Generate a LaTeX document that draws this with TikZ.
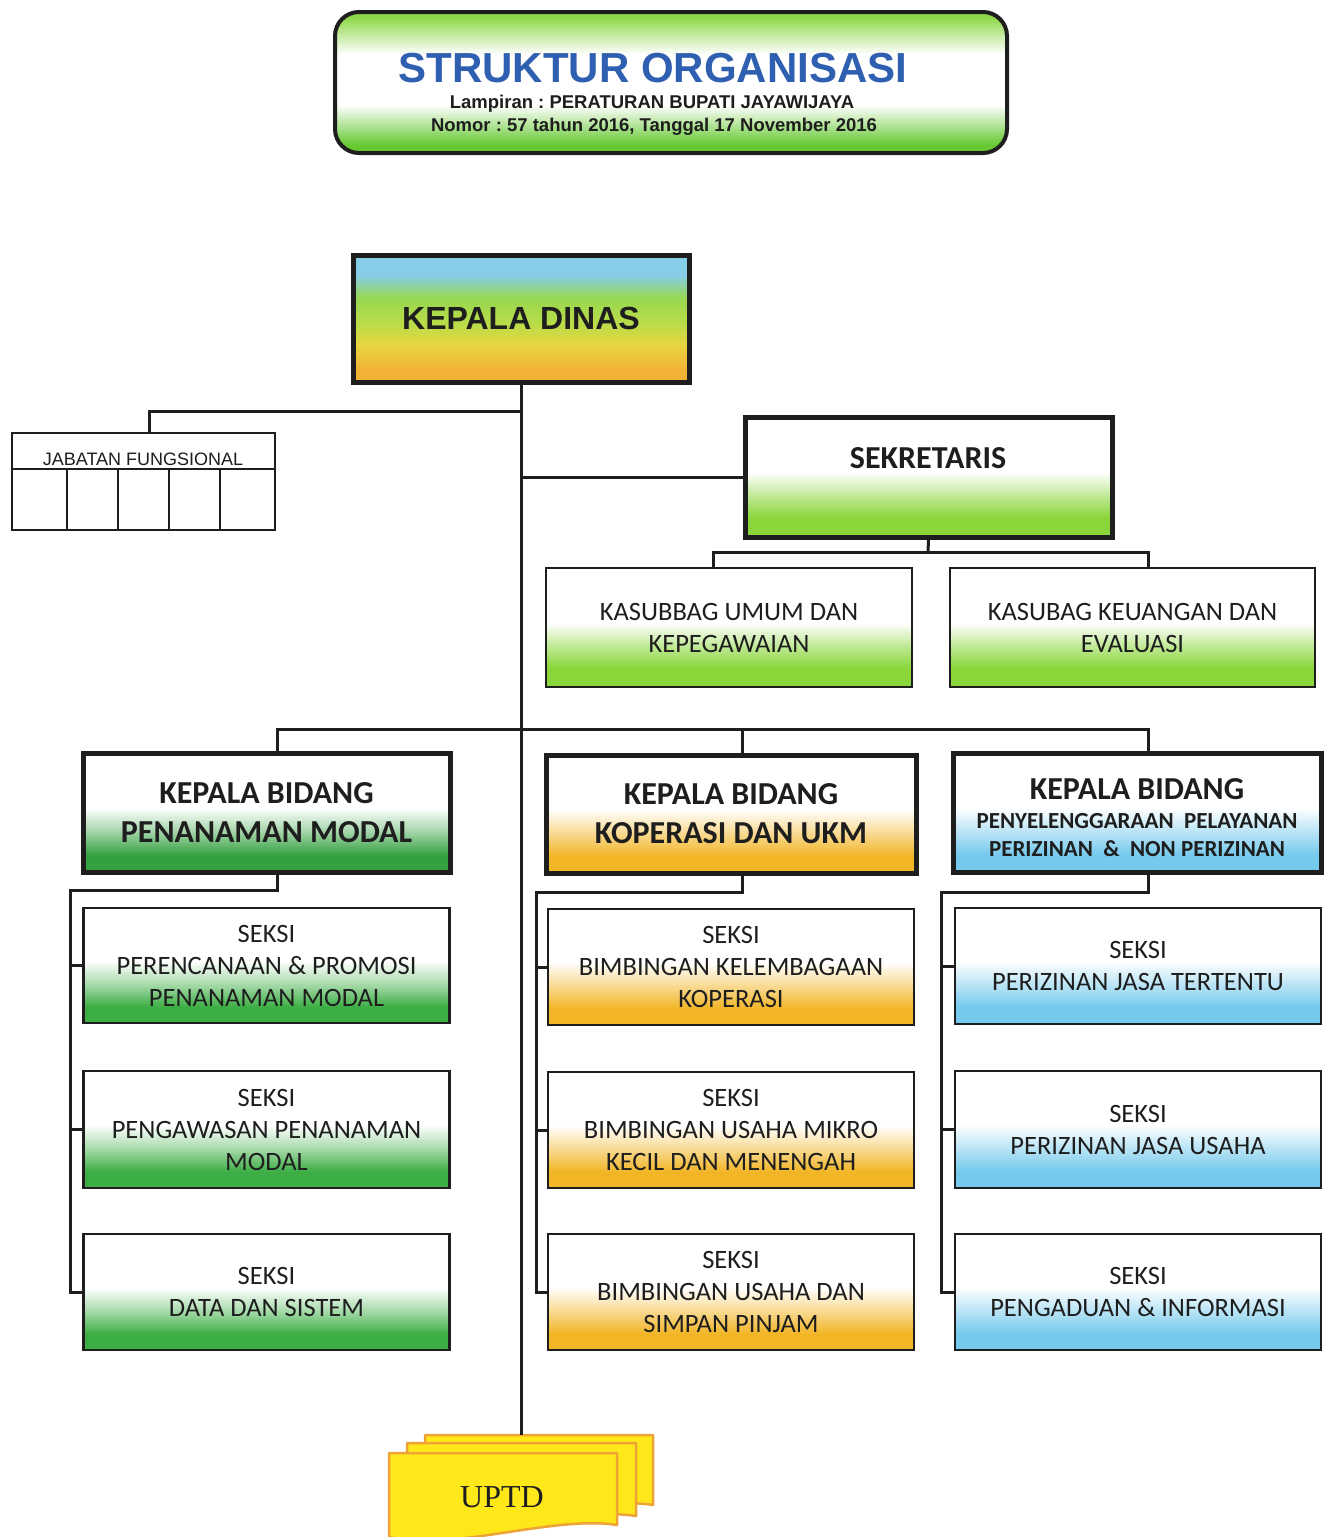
\documentclass[tikz,border=0pt]{standalone}
\usepackage{fontspec}
\setmainfont{Carlito}
\newfontfamily\arialf{Liberation Sans}
\newfontfamily\seriff{Liberation Serif}
\usetikzlibrary{calc}
\frenchspacing

\definecolor{titleblue}{HTML}{2F5FB0}
\definecolor{ink}{HTML}{1E1E1E}
\definecolor{kdO}{HTML}{F2B236}
\definecolor{kdY}{HTML}{E6D640}
\definecolor{kdYG}{HTML}{BEDC48}
\definecolor{kdG}{HTML}{98D850}
\definecolor{kdB}{HTML}{86CDE8}
\definecolor{lgreen}{HTML}{8AD63A}
\definecolor{dgreen}{HTML}{3DAE45}
\definecolor{kbgreen}{HTML}{34A040}
\definecolor{oyel}{HTML}{F2B526}
\definecolor{lblue}{HTML}{74C9EC}
\definecolor{tgreenT}{HTML}{8FD84C}
\definecolor{tgreenB}{HTML}{66C932}
\definecolor{uyel}{HTML}{FFE81A}
\definecolor{uorange}{HTML}{EFA236}

\pgfdeclareverticalshading{kdsh}{100bp}{color(0bp)=(kdO); color(30bp)=(kdO); color(40bp)=(kdY); color(47bp)=(kdYG); color(58bp)=(kdG); color(67bp)=(kdB); color(100bp)=(kdB)}
\pgfdeclareverticalshading{titlesh}{100bp}{color(0bp)=(tgreenB); color(28bp)=(tgreenB); color(42bp)=(white); color(60bp)=(white); color(73bp)=(tgreenT); color(100bp)=(tgreenT)}
\pgfdeclareverticalshading{lgsh}{100bp}{color(0bp)=(lgreen); color(33bp)=(lgreen); color(42bp)=(lgreen!55!white); color(52bp)=(white); color(100bp)=(white)}
\pgfdeclareverticalshading{dgsh}{100bp}{color(0bp)=(dgreen); color(32bp)=(dgreen); color(42bp)=(dgreen!45!white); color(52bp)=(white); color(100bp)=(white)}
\pgfdeclareverticalshading{kbgsh}{100bp}{color(0bp)=(kbgreen); color(32bp)=(kbgreen); color(42bp)=(kbgreen!45!white); color(52bp)=(white); color(100bp)=(white)}
\pgfdeclareverticalshading{ysh}{100bp}{color(0bp)=(oyel); color(32bp)=(oyel); color(42bp)=(oyel!50!white); color(52bp)=(white); color(100bp)=(white)}
\pgfdeclareverticalshading{bsh}{100bp}{color(0bp)=(lblue); color(32bp)=(lblue); color(42bp)=(lblue!50!white); color(52bp)=(white); color(100bp)=(white)}

\begin{document}
\begin{tikzpicture}[x=1pt,y=-1pt,
  conn/.style={draw=ink, line width=3pt},
  thickbox/.style={draw=ink, line width=5pt, rectangle, inner sep=0pt, align=center, text=ink},
  thinbox/.style={draw=ink, line width=2.5pt, rectangle, inner sep=0pt, align=center, text=ink},
  seksibox/.style={thinbox, minimum width=366pt, minimum height=116pt, font=\fontsize{26.5}{32}\selectfont},
  kbtxt/.style={font=\bfseries\fontsize{32}{39}\selectfont},
  uptdsheet/.style={draw=uorange, fill=uyel, line width=2.5pt, line join=round},
]
\useasboundingbox (0,0) rectangle (1326,1537);
\fill[white] (0,0) rectangle (1326,1537);

% ---------- title ----------
\node[draw=ink, line width=4pt, rounded corners=24pt, shading=titlesh,
      minimum width=672pt, minimum height=141pt, inner sep=0pt] (title) at (671,82.5) {};
\node[font=\arialf\bfseries\fontsize{42}{44}\selectfont, text=titleblue, inner sep=0pt] (ttl) at (653,68) {STRUKTUR ORGANISASI};
\node[font=\arialf\bfseries\fontsize{18.5}{20}\selectfont, text=ink, inner sep=0pt] (ttl2) at (652,104) {Lampiran : PERATURAN BUPATI JAYAWIJAYA};
\node[font=\arialf\bfseries\fontsize{18.5}{20}\selectfont, text=ink, inner sep=0pt] (ttl3) at (654,127) {Nomor : 57 tahun 2016, Tanggal 17 November 2016};

% ---------- kepala dinas ----------
\node[thickbox, shading=kdsh, minimum width=336pt, minimum height=127pt,
      font=\arialf\bfseries\fontsize{32}{34}\selectfont] (kd) at (521,318.5) {KEPALA DINAS};

% ---------- jabatan fungsional ----------
\node[thinbox, fill=white, minimum width=263pt, minimum height=97pt] (jf) at (143.5,481.5) {};
\node[font=\arialf\fontsize{18}{19}\selectfont, text=ink, inner sep=0pt] (jft) at (143,459) {JABATAN FUNGSIONAL};
\draw[ink, line width=2pt] (jf.west |- 0,469) -- (jf.east |- 0,469);
\foreach \xx in {67,118,169,220}{
  \draw[ink, line width=2pt] (\xx,469) -- (\xx,0 |- jf.south);
}

% ---------- sekretaris ----------
\node[thickbox, shading=lgsh, minimum width=367pt, minimum height=120pt] (sek) at (928.5,477) {};
\node[font=\bfseries\fontsize{32}{34}\selectfont, text=ink, inner sep=0pt] (sekt) at (928,458) {SEKRETARIS};

\node[thinbox, shading=lgsh, minimum width=366pt, minimum height=119pt,
      font=\fontsize{26.5}{32}\selectfont] (k1) at (729,627.5) {KASUBBAG UMUM DAN\\KEPEGAWAIAN};
\node[thinbox, shading=lgsh, minimum width=365pt, minimum height=119pt,
      font=\fontsize{26.5}{32}\selectfont] (k2) at (1132.5,627.5) {KASUBAG KEUANGAN DAN\\EVALUASI};

% ---------- kepala bidang ----------
\node[thickbox, shading=kbgsh, minimum width=367pt, minimum height=119pt, kbtxt] (kb1) at (266.5,812.5) {KEPALA BIDANG\\PENANAMAN MODAL};
\node[thickbox, shading=ysh, minimum width=370pt, minimum height=118pt, kbtxt] (kb2) at (731,814) {KEPALA BIDANG\\KOPERASI DAN UKM};
\node[thickbox, shading=bsh, minimum width=368pt, minimum height=119pt] (kb3) at (1137,812.5) {};
\node[font=\bfseries\fontsize{32}{34}\selectfont, text=ink, inner sep=0pt] (kb3a) at (1137,789) {KEPALA BIDANG};
\node[font=\bfseries\fontsize{23}{25}\selectfont, text=ink, inner sep=0pt] (kb3b) at (1137,821) {PENYELENGGARAAN\ \ PELAYANAN};
\node[font=\bfseries\fontsize{23}{25}\selectfont, text=ink, inner sep=0pt] (kb3c) at (1137,849) {PERIZINAN\ \ \&\ \ NON PERIZINAN};

% ---------- seksi ----------
\node[seksibox, shading=dgsh, minimum height=115pt] (s11) at (266.5,965.5) {SEKSI\\PERENCANAAN \& PROMOSI\\PENANAMAN MODAL};
\node[seksibox, shading=dgsh, minimum height=117pt] (s12) at (266.5,1129.5) {SEKSI\\PENGAWASAN PENANAMAN\\MODAL};
\node[seksibox, shading=dgsh] (s13) at (266.5,1292) {SEKSI\\DATA DAN SISTEM};

\node[seksibox, shading=ysh] (s21) at (731,967) {SEKSI\\BIMBINGAN KELEMBAGAAN\\KOPERASI};
\node[seksibox, shading=ysh] (s22) at (731,1130) {SEKSI\\BIMBINGAN USAHA MIKRO\\KECIL DAN MENENGAH};
\node[seksibox, shading=ysh] (s23) at (731,1292) {SEKSI\\BIMBINGAN USAHA DAN\\SIMPAN PINJAM};

\node[seksibox, shading=bsh] (s31) at (1138,966) {SEKSI\\PERIZINAN JASA TERTENTU};
\node[seksibox, shading=bsh, minimum height=117pt] (s32) at (1138,1129.5) {SEKSI\\PERIZINAN JASA USAHA};
\node[seksibox, shading=bsh] (s33) at (1138,1292) {SEKSI\\PENGADUAN \& INFORMASI};

% ---------- UPTD ----------
\draw[uptdsheet] (425,1435) -- (653,1435) -- (653,1505)
  .. controls (590,1495) and (490,1530) .. (425,1515) -- cycle;
\draw[uptdsheet] (407,1443) -- (636,1443) -- (636,1516)
  .. controls (572,1506) and (472,1542) .. (407,1527) -- cycle;
\draw[uptdsheet] (389,1453) -- (617,1453) -- (617,1525)
  .. controls (553,1515) and (453,1552) .. (389,1537) -- cycle;
\node[font=\seriff\fontsize{32}{34}\selectfont, text=ink, inner sep=0pt] (uptd) at (502,1497) {UPTD};
\coordinate (uptdtop) at (521,1435);

% ---------- connectors ----------
\coordinate (jfj) at (521,411);
\coordinate (sekbus) at (928,552);
\coordinate (kbbus) at (521,729);
\coordinate (c1) at (70,890);
\coordinate (c2) at (536,892);
\coordinate (c3) at (941,892);

\draw[conn] (kd.south) -- (uptdtop);
\draw[conn] (jfj) -| ([xshift=6pt]jf.north);
\draw[conn] (kd.south |- sek.west) -- (sek.west);

\draw[conn] (sek.south) -- (sekbus);
\draw[conn] ([xshift=-16pt]k1.north) |- (sekbus) -| ([xshift=16pt]k2.north);

\draw[conn] ([xshift=11pt]kb1.north) |- (kbbus) -| ([xshift=11pt]kb3.north);
\draw[conn] ([xshift=11pt]kb2.north) -- ([xshift=11pt]kb2.north |- kbbus);

\draw[conn] ([xshift=11pt]kb1.south) |- (c1) |- (s13.west);
\draw[conn] (s11.west) -- (s11.west -| c1);
\draw[conn] (s12.west) -- (s12.west -| c1);

\draw[conn] ([xshift=11pt]kb2.south) |- (c2) |- (s23.west);
\draw[conn] (s21.west) -- (s21.west -| c2);
\draw[conn] (s22.west) -- (s22.west -| c2);

\draw[conn] ([xshift=11pt]kb3.south) |- (c3) |- (s33.west);
\draw[conn] (s31.west) -- (s31.west -| c3);
\draw[conn] (s32.west) -- (s32.west -| c3);
\end{tikzpicture}
\end{document}
